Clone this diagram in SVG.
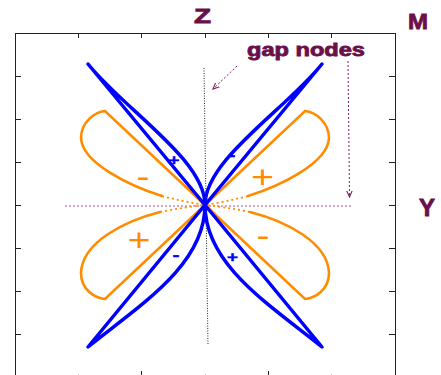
<svg xmlns="http://www.w3.org/2000/svg" width="441" height="375" viewBox="0 0 441 375">
<defs>
<style>
.frame{fill:none;stroke:#222;stroke-width:1}
.tick{stroke:#222;stroke-width:1}
.blue{fill:none;stroke:#0000ff;stroke-width:3.5;stroke-linejoin:round;stroke-linecap:round}
.orange{fill:none;stroke:#ff8c00;stroke-width:2.6;stroke-linejoin:miter;stroke-linecap:round}
.orangedot{fill:none;stroke:#ff8c00;stroke-width:1.8;stroke-dasharray:2 3}
.lbl{font-family:"Liberation Sans",Arial,sans-serif;font-weight:bold;fill:#6b0f4b;stroke:#6b0f4b;stroke-width:0.8}
.bsign{font-family:"Liberation Sans",Arial,sans-serif;font-weight:bold;fill:#0000ff;stroke:#0000ff;stroke-width:0.4;font-size:15px;text-anchor:middle}
.osign{font-family:"Liberation Sans",Arial,sans-serif;fill:#ff8c00;font-size:31px;text-anchor:middle}
.gap{fill:none;stroke:#7a2060;stroke-width:1;stroke-dasharray:2 2}
</style>
<marker id="ah" viewBox="0 0 10 10" refX="9" refY="5" markerWidth="7" markerHeight="7" orient="auto" markerUnits="userSpaceOnUse">
<path d="M0,1 L9,5 L0,9" fill="none" stroke="#7a2060" stroke-width="1.6"/>
</marker>
</defs>

<g id="frame">
<rect class="frame" x="15.5" y="33.5" width="380" height="344"/>
<path class="tick" d="M15,76.5h6M15,119.5h6M15,162.5h6M15,205.5h6M15,248.5h6M15,291.5h6M15,334.5h6"/>
<path class="tick" d="M395,76.5h-6M395,119.5h-6M395,162.5h-6M395,205.5h-6M395,248.5h-6M395,291.5h-6M395,334.5h-6"/>
<path class="tick" d="M78.5,33v5M141.5,33v5M205.5,33v5M268.5,33v5M331.5,33v5"/>
<path class="tick" d="M141.5,371v6M268.5,371v6"/>
<path d="M78.5,374v3M205.5,374v3M331.5,374v3" stroke="#bbb" stroke-width="1"/>
</g>

<g id="axes">
<path d="M204,68 L208,345" stroke="#222" stroke-width="1" stroke-dasharray="1 1.5" fill="none"/>
<path d="M65,206 H353" stroke="#c58ab2" stroke-width="1.3" stroke-dasharray="2 2" fill="none"/>
</g>

<g id="orange-lobes">
<path class="orange" d="M205,205 L105,111 C95,112 81,122 81,138 C82,163 130,186 162,196"/>
<path class="orangedot" d="M162,196 Q185,202 205,205"/>
<path class="orange" d="M205,205 L305,111 C315,112 329,122 329,138 C328,163 280,186 248,196"/>
<path class="orangedot" d="M248,196 Q225,202 205,205"/>
<path class="orange" d="M205,205 L105,299 C95,298 81,290 81,273 C82,242 125,221 160,212"/>
<path class="orangedot" d="M160,212 Q185,207 205,205"/>
<path class="orange" d="M205,205 L305,299 C315,298 329,290 329,273 C328,242 285,221 250,212"/>
<path class="orangedot" d="M250,212 Q225,207 205,205"/>
</g>

<g id="blue-lobes">
<path class="blue" d="M205,205 L88,64 C125,110 205,160 205,205 Z"/>
<path class="blue" d="M205,205 L322,64 C285,110 205,160 205,205 Z"/>
<path class="blue" d="M205,205 L88,347 C140,305 205,265 205,205 Z"/>
<path class="blue" d="M205,205 L322,347 C270,305 205,265 205,205 Z"/>
</g>

<g id="signs">
<text class="bsign" x="174" y="164.5" textLength="11" lengthAdjust="spacingAndGlyphs">+</text>
<text class="bsign" x="232" y="160" textLength="7" lengthAdjust="spacingAndGlyphs">-</text>
<text class="bsign" x="176" y="260" textLength="7" lengthAdjust="spacingAndGlyphs">-</text>
<text class="bsign" x="232.5" y="262" textLength="11" lengthAdjust="spacingAndGlyphs">+</text>
<text class="osign" x="143" y="187" textLength="13" lengthAdjust="spacingAndGlyphs">-</text>
<text class="osign" x="262.5" y="187.5" textLength="23" lengthAdjust="spacingAndGlyphs">+</text>
<text class="osign" x="139" y="251" textLength="23" lengthAdjust="spacingAndGlyphs">+</text>
<text class="osign" x="263" y="246" textLength="13" lengthAdjust="spacingAndGlyphs">-</text>
</g>

<g id="labels">
<text class="lbl" x="194" y="23" font-size="21" textLength="17" lengthAdjust="spacingAndGlyphs">Z</text>
<text class="lbl" x="408" y="29" font-size="22" textLength="20" lengthAdjust="spacingAndGlyphs">M</text>
<text class="lbl" x="419" y="216" font-size="23" textLength="16" lengthAdjust="spacingAndGlyphs">Y</text>
<text class="lbl" x="247" y="56" font-size="18" textLength="118" lengthAdjust="spacingAndGlyphs">gap nodes</text>
</g>

<g id="connectors">
<path class="gap" d="M237,66 L213,89" marker-end="url(#ah)"/>
<path class="gap" d="M348,61 L349.5,197" marker-end="url(#ah)"/>
</g>
</svg>
